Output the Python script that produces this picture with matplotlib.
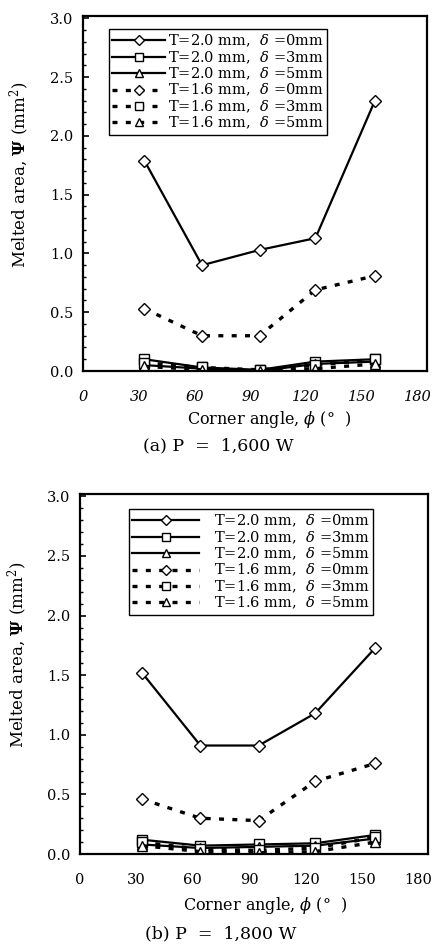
import numpy as np
import matplotlib
matplotlib.use('Agg')
import matplotlib.pyplot as plt
from matplotlib.ticker import MultipleLocator, FormatStrFormatter

plt.rcParams['font.family'] = ['DejaVu Serif']
plt.rcParams['mathtext.fontset'] = 'dejavuserif'

# Corner angles (deg)
angles = [33, 64, 95, 125, 157]

# (a) P = 1,600 W
a_t20_d0 = [1.79, 0.90, 1.03, 1.13, 2.30]
a_t20_d3 = [0.10, 0.03, 0.01, 0.08, 0.10]
a_t20_d5 = [0.05, 0.02, 0.00, 0.06, 0.08]
a_t16_d0 = [0.53, 0.30, 0.30, 0.69, 0.81]
a_t16_d3 = [0.07, 0.03, 0.01, 0.05, 0.10]
a_t16_d5 = [0.04, 0.01, 0.00, 0.02, 0.06]

# (b) P = 1,800 W
b_t20_d0 = [1.52, 0.91, 0.91, 1.18, 1.73]
b_t20_d3 = [0.12, 0.07, 0.08, 0.09, 0.16]
b_t20_d5 = [0.08, 0.05, 0.06, 0.07, 0.13]
b_t16_d0 = [0.46, 0.30, 0.28, 0.61, 0.76]
b_t16_d3 = [0.10, 0.04, 0.03, 0.05, 0.14]
b_t16_d5 = [0.07, 0.02, 0.01, 0.02, 0.10]

labels = [r'T=2.0 mm,  $\delta$ =0mm', r'T=2.0 mm,  $\delta$ =3mm', r'T=2.0 mm,  $\delta$ =5mm',
          r'T=1.6 mm,  $\delta$ =0mm', r'T=1.6 mm,  $\delta$ =3mm', r'T=1.6 mm,  $\delta$ =5mm']
markers = ['D', 's', '^', 'D', 's', '^']

fig = plt.figure(figsize=(4.32, 9.47), dpi=100)
W, H = 432, 947


def panel(box, series, legend_xy, handlelen, textpad, italic_x):
    left, right, top, bottom = box
    ax = fig.add_axes([left / W, 1 - bottom / H, (right - left) / W, (bottom - top) / H])
    for i, ys in enumerate(series):
        ls = '-' if i < 3 else (0, (1.5, 2.5))
        lw = 1.6 if i < 3 else 2.4
        ms = 7.5 if markers[i] != 'D' else 6.5
        ax.plot(angles, ys, color='black', linestyle=ls, linewidth=lw, marker=markers[i],
                markersize=ms, markerfacecolor='white', markeredgecolor='black',
                markeredgewidth=1.0, label=labels[i], zorder=3 if i == 0 else 2)
    ax.set_xlim(0, 185)
    ax.set_ylim(0, 3.02)
    ax.set_xticks([0, 30, 60, 90, 120, 150, 180])
    ax.yaxis.set_major_locator(MultipleLocator(0.5))
    ax.yaxis.set_minor_locator(MultipleLocator(0.1))
    ax.yaxis.set_major_formatter(FormatStrFormatter('%.1f'))
    ax.tick_params(axis='y', which='major', direction='in', length=4, width=1.2, labelsize=10.5, pad=7)
    ax.tick_params(axis='y', which='minor', direction='in', length=2.5, width=1.0)
    ax.tick_params(axis='x', length=0, labelsize=10.5, pad=14)
    if italic_x:
        for t in ax.get_xticklabels():
            t.set_style('italic')
    for s in ax.spines.values():
        s.set_linewidth(1.6)
    leg = ax.legend(loc='upper left', bbox_to_anchor=legend_xy, borderaxespad=0,
                    fontsize=10.5, handlelength=handlelen, handletextpad=textpad,
                    labelspacing=0.0, borderpad=0.25, fancybox=False, framealpha=1,
                    edgecolor='black', markerscale=0.85)
    leg.get_frame().set_linewidth(1.0)
    return ax


panel((83, 427, 16, 371),
      [a_t20_d0, a_t20_d3, a_t20_d5, a_t16_d0, a_t16_d3, a_t16_d5],
      (0.075, 0.963), 3.6, 0.2, True)
panel((80, 428, 494, 854),
      [b_t20_d0, b_t20_d3, b_t20_d5, b_t16_d0, b_t16_d3, b_t16_d5],
      (0.14, 0.958), 4.6, 1.0, False)

ylab = r'Melted area, $\boldsymbol{\Psi}$ (mm$^2$)'
fig.text(20 / W, 1 - 175 / H, ylab, rotation=90, ha='center', va='center', fontsize=12)
fig.text(18 / W, 1 - 655 / H, ylab, rotation=90, ha='center', va='center', fontsize=12)
xlab = r'Corner angle, $\phi$ (°  )'
fig.text(269 / W, 1 - 420 / H, xlab, ha='center', va='center', fontsize=11.5)
fig.text(265 / W, 1 - 905 / H, xlab, ha='center', va='center', fontsize=11.5)
fig.text(218 / W, 1 - 446 / H, '(a) P  =  1,600 W', ha='center', va='center', fontsize=12.5)
fig.text(221 / W, 1 - 934 / H, '(b) P  =  1,800 W', ha='center', va='center', fontsize=12.5)

fig.savefig('out.png', dpi=100)
